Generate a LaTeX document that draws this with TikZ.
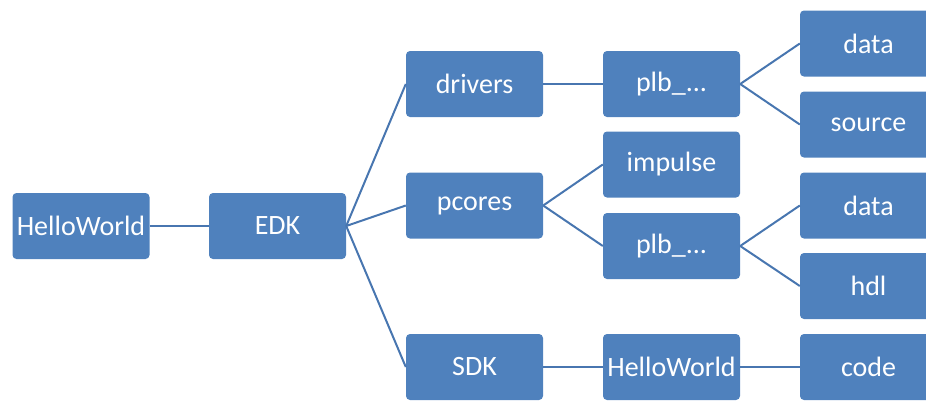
\documentclass[tikz,border=0pt]{standalone}
\usepackage{fontspec}
\setmainfont{Carlito}
\usepackage{tikz}

\definecolor{boxblue}{RGB}{79,129,189}
\definecolor{lineblue}{RGB}{72,118,176}

\begin{document}
\begin{tikzpicture}[x=1pt,y=-1pt,
    folder/.style={fill=boxblue,rounded corners=4pt,minimum width=137pt,
      minimum height=66pt,inner sep=0pt,text=white,
      font=\fontsize{28}{32}\selectfont},
    branch/.style={draw=lineblue,line width=2pt}]
          \clip (0,0) rectangle (926,400);
          % root and first level
          \node[folder] (HW) at (81,226) {HelloWorld};
          \node[folder] (EDK) at (277.5,226) {EDK};
          \node[folder] (drv) at (474.5,84) {drivers};
          \node[folder] (pc) at (474.5,205.5) {pcores};
          \node[folder] (SDK) at (474.5,367) {SDK};
          % second level
          \node[folder] (plbA) at (671.5,84) {plb\_...};
          \node[folder] (imp) at (671.5,164.5) {impulse};
          \node[folder] (plbB) at (671.5,246) {plb\_...};
          \node[folder] (HWB) at (671.5,367) {HelloWorld};
          % leaves
          \node[folder] (datA) at (868.5,43.5) {data};
          \node[folder] (src) at (868.5,124.5) {source};
          \node[folder] (datB) at (868.5,205.5) {data};
          \node[folder] (hdl) at (868.5,286) {hdl};
          \node[folder] (code) at (868.5,367) {code};
          \draw[branch] (HW.east) to (EDK.west);
          \draw[branch] (EDK.east) to (drv.west);
          \draw[branch] (EDK.east) to (pc.west);
          \draw[branch] (EDK.east) to (SDK.west);
          \draw[branch] (drv.east) to (plbA.west);
          \draw[branch] (pc.east) to (imp.west);
          \draw[branch] (pc.east) to (plbB.west);
          \draw[branch] (SDK.east) to (HWB.west);
          \draw[branch] (plbA.east) to (datA.west);
          \draw[branch] (plbA.east) to (src.west);
          \draw[branch] (plbB.east) to (datB.west);
          \draw[branch] (plbB.east) to (hdl.west);
          \draw[branch] (HWB.east) to (code.west);
        \end{tikzpicture}
\end{document}
